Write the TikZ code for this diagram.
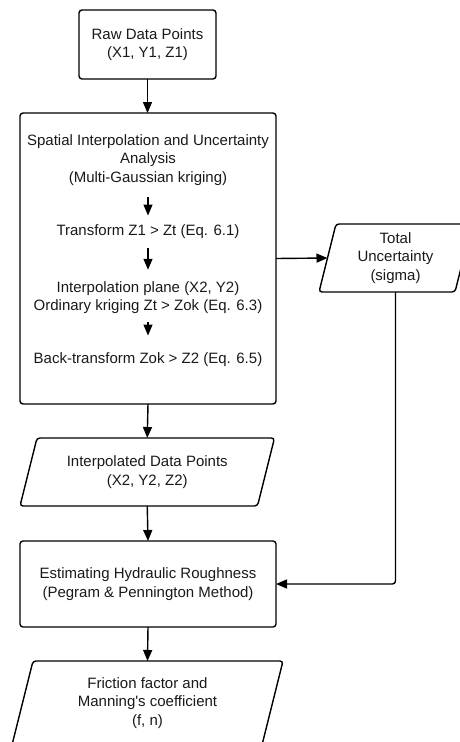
\documentclass[tikz,border=0pt]{standalone}
\usepackage{fontspec}
\setmainfont{Liberation Sans}
\usetikzlibrary{arrows.meta,calc}
\newcommand\paradraw[2]{\draw[shapeline] ([xshift=-#2]#1.south west) -- ([xshift=#2]#1.north west) -- ([xshift=#2]#1.north east) -- ([xshift=-#2]#1.south east) -- cycle;}
\begin{document}
\begin{tikzpicture}[x=1pt,y=-1pt,
 every node/.style={font=\fontsize{15}{18.5}\selectfont, align=center, inner sep=0pt, outer sep=0pt, text=black!90},
 box/.style={draw, line width=1.4pt, rounded corners=3pt},
 arr/.style={-{Triangle[length=11pt,width=9pt]}, line width=1.4pt},
 shapeline/.style={line width=1.4pt, rounded corners=3pt}]
\useasboundingbox (0,0) rectangle (460,742);
\clip (0,0) rectangle (460,742);
% boxes
\node[box, minimum width=137pt, minimum height=69pt] (raw) at (147.5,44.5) {Raw Data Points\\(X1, Y1, Z1)};
\node[box, minimum width=256pt, minimum height=291pt] (big) at (148,258.5) {};
\node (t1) at (148,160) {Spatial Interpolation and Uncertainty\\Analysis\\(Multi-Gaussian kriging)};
\node (t2) at (148,232) {Transform Z1 > Zt (Eq. 6.1)};
\node (t3) at (148,297.5) {Interpolation plane (X2, Y2)\\Ordinary kriging Zt > Zok (Eq. 6.3)};
\node (t4) at (148,360) {Back-transform Zok > Z2 (Eq. 6.5)};
\node[minimum width=136pt, minimum height=68pt] (tu) at (395.5,258) {Total\\Uncertainty\\(sigma)};
\paradraw{tu}{8.5pt}
\node[minimum width=237.5pt, minimum height=68pt] (ip) at (147.25,472) {Interpolated Data Points\\(X2, Y2, Z2)};
\paradraw{ip}{8.5pt}
\node[box, minimum width=256pt, minimum height=86pt] (hr) at (148,584) {Estimating Hydraulic Roughness\\(Pegram \& Pennington Method)};
\node[minimum width=250pt, minimum height=84pt] (ff) at (147.5,703) {Friction factor and\\Manning\textquotesingle s coefficient\\(f, n)};
\paradraw{ff}{10.5pt}
% connectors
\draw[arr] (raw.south) -- (raw.south |- big.north);
\draw[arr, shorten <=11.4pt, shorten >=9.5pt] (t1.south) -- (t2.north);
\draw[arr, shorten <=9.4pt, shorten >=11.5pt] (t2.south) -- (t3.north);
\draw[arr, shorten <=8.4pt, shorten >=17.5pt] (t3.south) -- (t4.north);
\draw[arr] (big.east) -- (tu.west);
\draw[arr] (big.south) -- (ip.north);
\draw[arr] (ip.south) -- (hr.north);
\draw[arr] (hr.south) -- (ff.north);
\draw[arr, rounded corners=3pt] (tu.south) |- (hr.east);
\end{tikzpicture}
\end{document}
